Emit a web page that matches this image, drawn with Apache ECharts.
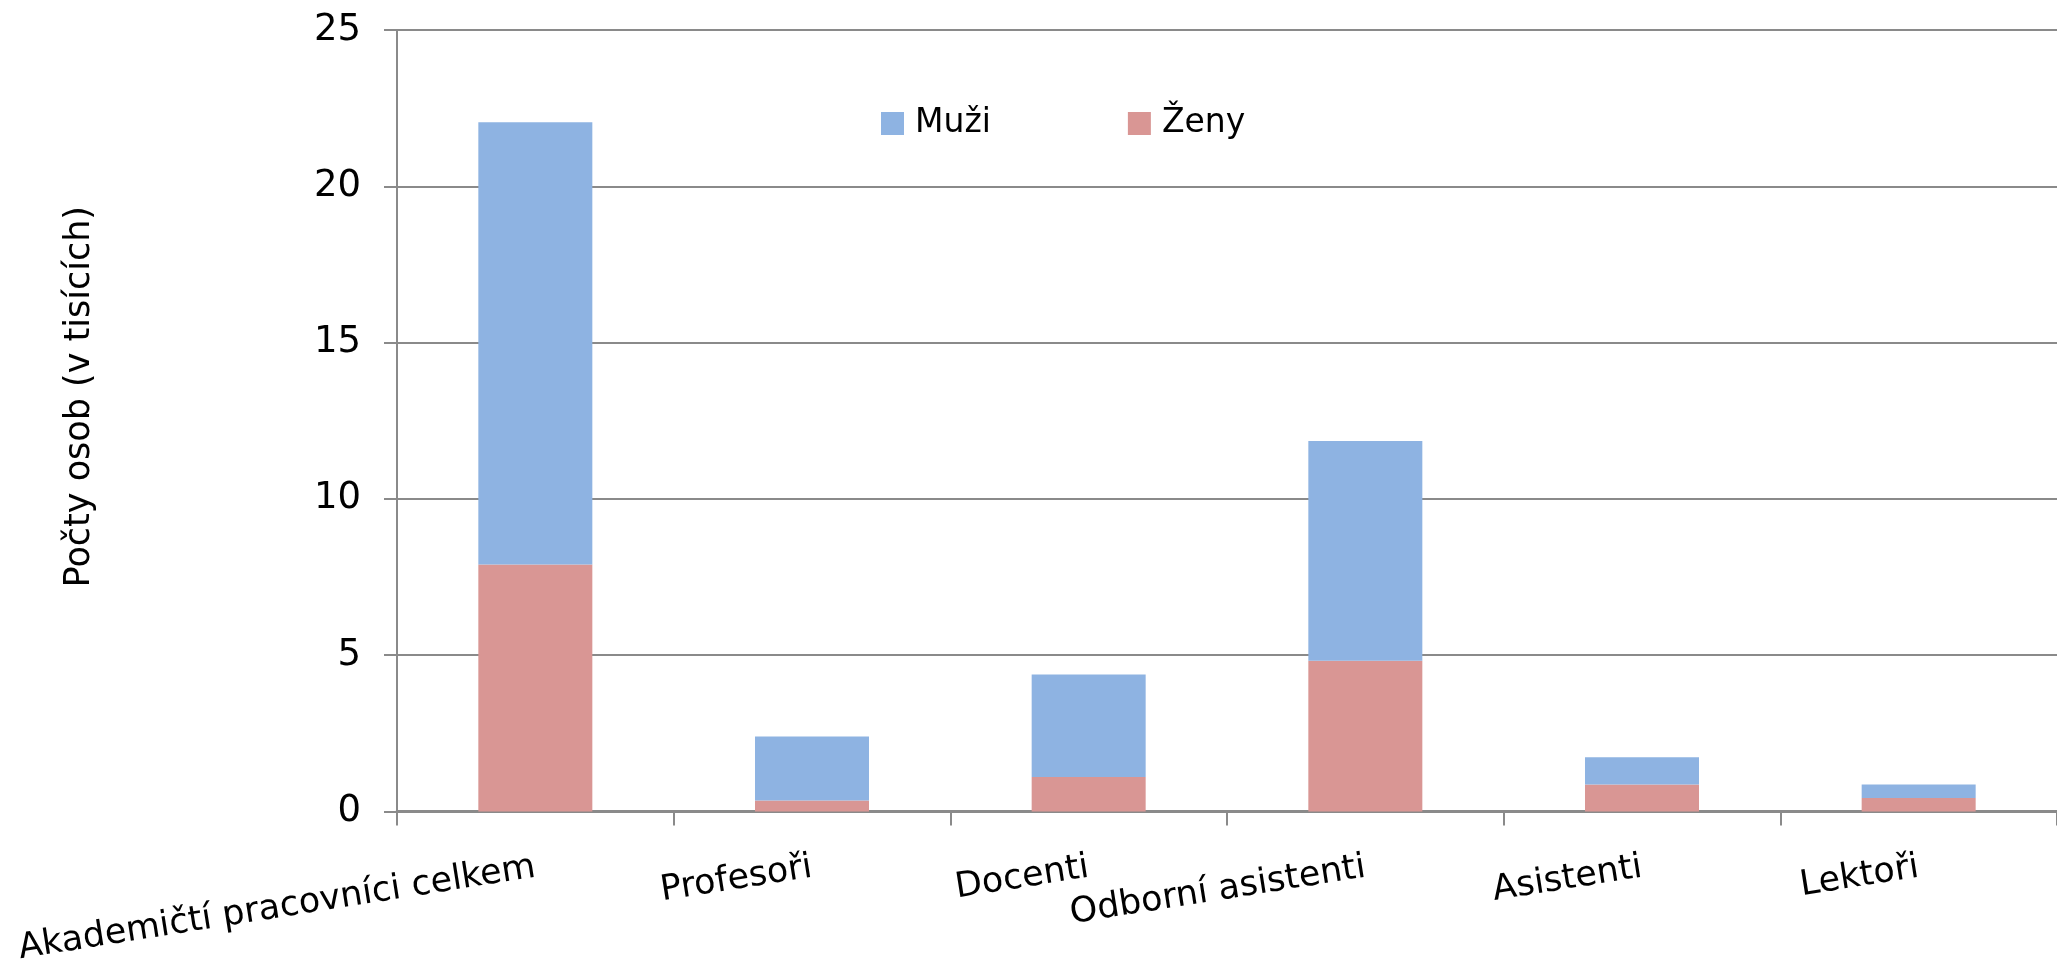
<!DOCTYPE html>
<html>
<head>
<meta charset="utf-8">
<script src="https://cdn.jsdelivr.net/npm/echarts@6/dist/echarts.min.js"></script>
<style>
  html, body { margin: 0; padding: 0; background: #fff; }
  #chart { width: 2057px; height: 967px; }
</style>
</head>
<body>
<div id="chart"></div>
<script>
// categories on the x axis
var categories = ['Akademičtí pracovníci celkem', 'Profesoři', 'Docenti', 'Odborní asistenti', 'Asistenti', 'Lektoři']
// values in thousands
var zeny = [7.90, 0.35, 1.10, 4.82, 0.86, 0.43]
var muzi = [14.15, 2.05, 3.28, 7.03, 0.87, 0.43]
var yTicks = [0, 5, 10, 15, 20, 25]

// the original text is a wide sans, DejaVu is closest in width
var font = "'DejaVu Sans', 'Liberation Sans', Arial, sans-serif"
var gridColor = '#8a8a8a'

var chart = echarts.init(document.getElementById('chart'))

chart.setOption({
  backgroundColor: '#ffffff',
  animation: false,
  textStyle: { fontFamily: font, color: '#000' },
  grid: {
    left: 397,
    right: -14,
    top: 30,
    bottom: 154,
    containLabel: false
  },
  legend: {
    data: ['Muži', 'Ženy'],
    left: 881,
    top: 107,
    padding: 0,
    itemWidth: 23,
    itemHeight: 23,
    itemGap: 137,
    icon: 'rect',
    textStyle: { fontFamily: font, fontSize: 33, color: '#000', padding: [0, 0, 0, 6] }
  },
  xAxis: {
    type: 'category',
    data: categories,
    axisLine: { show: true, lineStyle: { color: gridColor, width: 3 } },
    axisTick: { show: true, length: 14, lineStyle: { color: gridColor, width: 2 } },
    axisLabel: {
      interval: 0,
      rotate: 9,
      margin: 56,
      fontSize: 35,
      fontFamily: font,
      color: '#000'
    }
  },
  yAxis: {
    type: 'value',
    min: yTicks[0],
    max: yTicks[yTicks.length - 1],
    interval: 5,
    name: 'Počty osob (v tisících)',
    nameLocation: 'middle',
    nameRotate: 90,
    nameGap: 300,
    nameTextStyle: { fontFamily: font, fontSize: 35, color: '#000', padding: [0, 0, 0, 48] },
    axisLine: { show: true, lineStyle: { color: gridColor, width: 2 } },
    axisTick: { show: true, length: 13, lineStyle: { color: gridColor, width: 2 } },
    axisLabel: { margin: 36, fontSize: 37, fontFamily: font, color: '#000' },
    splitLine: { show: true, lineStyle: { color: gridColor, width: 2 } }
  },
  series: [
    {
      name: 'Ženy',
      type: 'bar',
      stack: 'total',
      barWidth: 114,
      itemStyle: { color: '#d99694' },
      data: zeny
    },
    {
      name: 'Muži',
      type: 'bar',
      stack: 'total',
      barWidth: 114,
      itemStyle: { color: '#8eb3e2' },
      data: muzi
    }
  ]
})
</script>
</body>
</html>
